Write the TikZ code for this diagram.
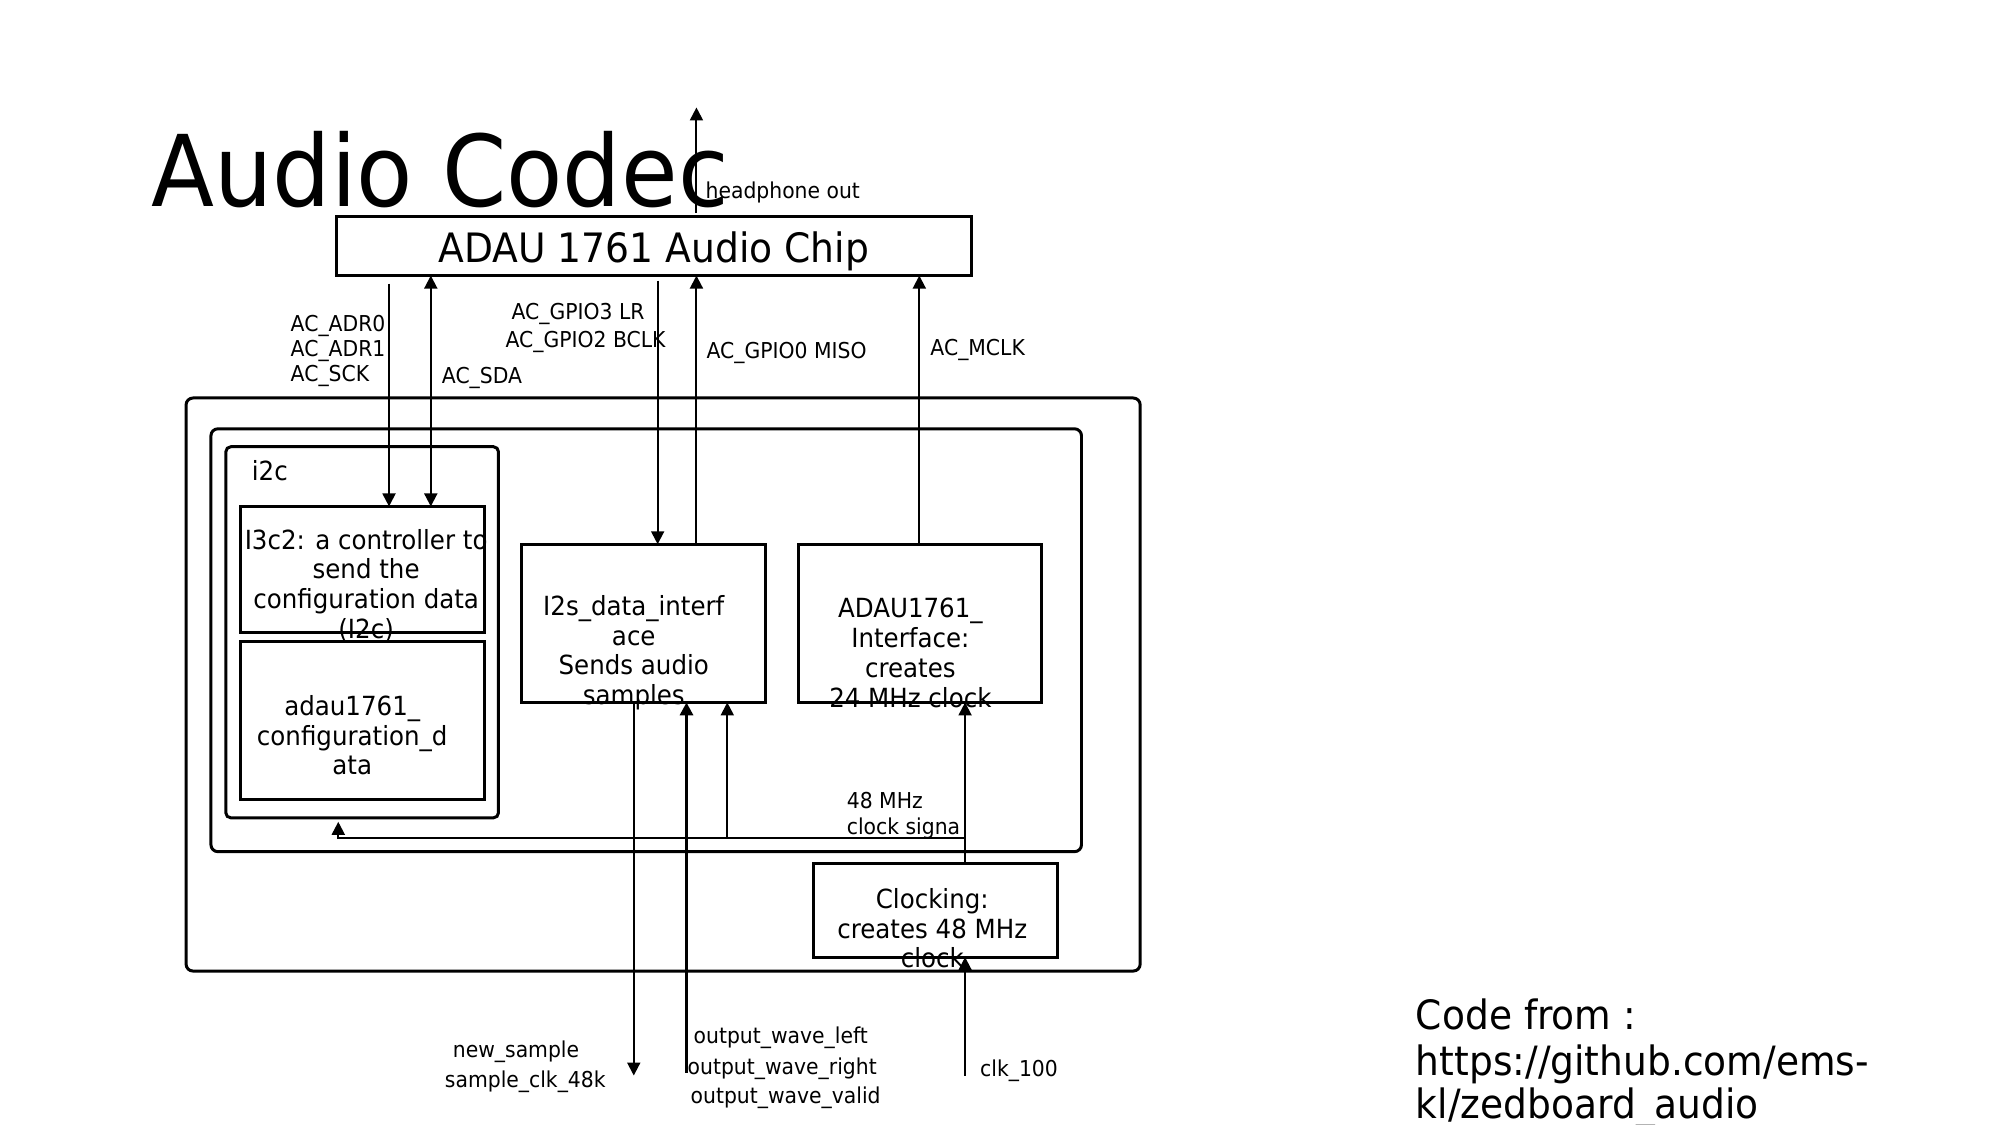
\documentclass[tikz,border=0pt]{standalone}
\usepackage{fontspec}
\setmainfont{DejaVu Sans}[FakeStretch=0.93]
\usetikzlibrary{arrows.meta,calc}
\begin{document}
\begin{tikzpicture}[x=1pt,y=-1pt,
  box/.style={draw, line width=3pt, inner sep=0pt, outer sep=0pt},
  rbox/.style={box, rounded corners=7pt},
  tip/.tip={Triangle[length=13pt,width=13pt]},
  arr/.style={line width=2pt, -tip},
  darr/.style={line width=2pt, tip-tip},
  lbl/.style={inner sep=0pt, anchor=base west, font=\fontsize{22}{25}\selectfont},
  btxt/.style={inner sep=0pt, align=center, font=\fontsize{26.5}{30}\selectfont},
  big/.style={inner sep=0pt, anchor=base west, font=\fontsize{40.6}{46}\selectfont},
]
\useasboundingbox (0,0) rectangle (2010.2,1130.7);

% title
\node[inner sep=0pt, anchor=base west, font=\fontsize{99.5}{118}\selectfont] (title) at (152,208) {Audio Codec};

% boxes
\node[box, minimum width=638pt, minimum height=59pt] (chip) at (657,247.5) {};
\node[inner sep=0pt, anchor=base, font=\fontsize{40.7}{46}\selectfont] (chiptext) at (657,263.5) {ADAU 1761 Audio Chip};
\node[rbox, minimum width=959pt, minimum height=576pt] (outer) at (666.5,688) {};
\node[rbox, minimum width=875pt, minimum height=425pt] (middle) at (649.5,643.5) {};
\node[rbox, rounded corners=5pt, minimum width=274pt, minimum height=373pt] (i2cbox) at (364,635.5) {};
\node[box, minimum width=245pt, minimum height=127pt] (ctrl) at (364.5,572.5) {};
\node[box, minimum width=245pt, minimum height=159pt] (cfg) at (364.5,724.5) {};
\node[box, minimum width=245pt, minimum height=159pt] (i2s) at (646.5,626.5) {};
\node[box, minimum width=244pt, minimum height=159pt] (iface) at (925,626.5) {};
\node[box, minimum width=245pt, minimum height=94pt] (clocking) at (940.5,915) {};

% box texts
\node[inner sep=0pt, anchor=base west, font=\fontsize{26.5}{30}\selectfont] (i2clbl) at (253,483) {i2c};
\node[btxt] (ctrltext) at (368,588.5) {I3c2: a controller to\\send the\\configuration data\\(I2c)};
\node[btxt] (cfgtext) at (354,739) {adau1761\_\\configuration\_d\\ata};
\node[btxt] (i2stext) at (637,656) {I2s\_data\_interf\\ace\\Sends audio\\samples};
\node[btxt] (ifacetext) at (915,656) {ADAU1761\_\\Interface:\\creates\\24 MHz clock};
\node[btxt] (clktext) at (937,933) {Clocking:\\creates 48 MHz\\clock};

% columns
\coordinate (xadr) at (391,0);
\coordinate (xsda) at (433,0);
\coordinate (xg3) at (661,0);
\coordinate (xmiso) at (700,0);
\coordinate (xm) at (924,0);
\coordinate (hpend) at (700,108);
\coordinate (nsend) at (637,1081);
\coordinate (owstart) at (690,1078);
\coordinate (jl) at (340,842);
\coordinate (jm) at (731,842);
\coordinate (jr) at (970,842);
\coordinate (clkin) at (970,1081);

% top connectors
\draw[arr] ($(xadr |- chip.south)+(0,8)$) -- (xadr |- ctrl.north);
\draw[darr] (xsda |- chip.south) -- (xsda |- ctrl.north);
\draw[arr] ($(xg3 |- chip.south)+(0,5)$) -- (xg3 |- i2s.north);
\draw[arr] (xmiso |- i2s.north) -- (xmiso |- chip.south);
\draw[arr] (xm |- iface.north) -- (xm |- chip.south);
\draw[arr] ($(xmiso |- chip.north)+(0,-4)$) -- (hpend);

% bottom connectors
\draw[arr] (nsend |- i2s.south) -- (nsend);
\draw[arr, line width=3.3pt] (owstart) -- (owstart |- i2s.south);
\draw[arr] (clocking.north -| jr) -- (iface.south -| jr);
\draw[arr] (jr) -| ($(jl |- i2cbox.south)+(0,4)$);
\draw[arr] (jm) -- (jm |- i2s.south);
\draw[arr] (clkin) -- (clkin |- clocking.south);

% labels
\node[lbl] (hp) at (709,200) {headphone out};
\node[lbl] (adr0) at (292,333.5) {AC\_ADR0};
\node[lbl] (adr1) at (292,358.5) {AC\_ADR1};
\node[lbl] (sck) at (292,383.5) {AC\_SCK};
\node[lbl] (sda) at (444,385) {AC\_SDA};
\node[lbl] (g3) at (514,321) {AC\_GPIO3 LR};
\node[lbl] (g2) at (508,349) {AC\_GPIO2 BCLK};
\node[lbl] (g0) at (710,360.5) {AC\_GPIO0 MISO};
\node[lbl] (mclk) at (935,357) {AC\_MCLK};
\node[lbl] (mhz) at (851,813) {48 MHz};
\node[lbl] (csig) at (851,839) {clock signa};
\node[lbl] (ns) at (455,1063) {new\_sample};
\node[lbl] (sclk) at (447,1093) {sample\_clk\_48k};
\node[lbl] (owl) at (697,1049) {output\_wave\_left};
\node[lbl] (owr) at (691,1080) {output\_wave\_right};
\node[lbl] (owv) at (694,1109) {output\_wave\_valid};
\node[lbl] (c100) at (985,1082) {clk\_100};
\node[big] (code1) at (1423,1034.5) {Code from :};
\node[big] (code2) at (1423,1080.5) {https://github.com/ems-};
\node[big] (code3) at (1423,1124.5) {kl/zedboard\_audio};
\end{tikzpicture}
\end{document}
